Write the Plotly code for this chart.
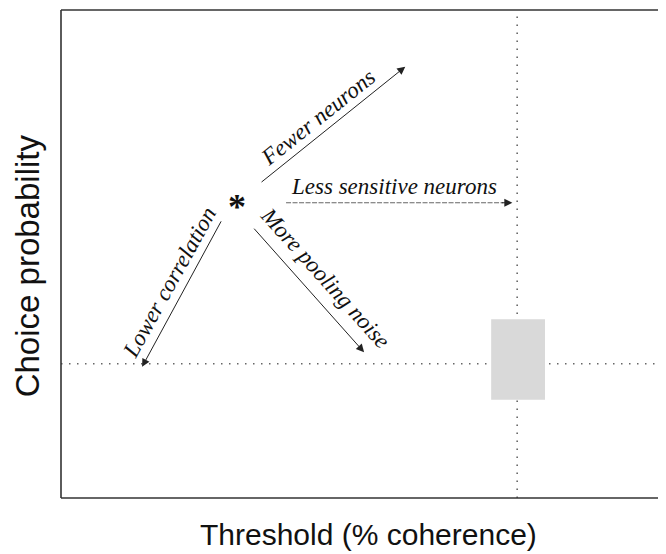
import plotly.graph_objects as go

# --- data (abstract units: x 0..10 threshold, y 0..8 choice probability) ---
x_range = [0, 10]
y_range = [0, 8]

ref_threshold = 7.54      # vertical dotted line (observed threshold)
ref_cp = 2.2              # horizontal dotted line (observed choice probability)
box_x = [7.11, 8.0]       # grey box: observed range
box_y = [1.61, 2.93]

star_xy = (2.91, 4.85)    # model prediction

arrow_labels = ["Fewer neurons", "Less sensitive neurons", "More pooling noise", "Lower correlation"]
arrow_start_x = [3.29, 3.72, 3.17, 2.66]
arrow_start_y = [5.16, 4.84, 4.44, 4.56]
arrow_end_x = [5.69, 7.46, 5.01, 1.34]
arrow_end_y = [7.07, 4.84, 2.39, 2.15]
arrow_dashed = [False, True, False, False]
label_x = [4.25, 5.50, 4.36, 1.79]
label_y = [6.23, 5.10, 3.61, 3.54]
label_angle = [-38.7, 0, 48, -61]

x_title = "Threshold (% coherence)"
y_title = "Choice probability"

fig = go.Figure()

dot_style = dict(color="#666666", width=1.6, dash="1.5px,6.5px")
fig.add_trace(go.Scatter(x=x_range, y=[ref_cp, ref_cp], mode="lines", line=dot_style,
                         hoverinfo="skip", showlegend=False))
fig.add_trace(go.Scatter(x=[ref_threshold, ref_threshold], y=y_range, mode="lines", line=dot_style,
                         hoverinfo="skip", showlegend=False))
fig.add_trace(go.Scatter(x=[box_x[0], box_x[1], box_x[1], box_x[0], box_x[0]],
                         y=[box_y[0], box_y[0], box_y[1], box_y[1], box_y[0]],
                         mode="lines", fill="toself", fillcolor="#d9d9d9",
                         line=dict(width=0, color="#d9d9d9"), hoverinfo="skip", showlegend=False))

annotations = []
for i, lab in enumerate(arrow_labels):
    sx, sy, ex, ey = arrow_start_x[i], arrow_start_y[i], arrow_end_x[i], arrow_end_y[i]
    if arrow_dashed[i]:
        fig.add_trace(go.Scatter(x=[sx, ex - 0.15], y=[sy, ey], mode="lines",
                                 line=dict(color="#666666", width=1, dash="5px,1.5px"),
                                 hoverinfo="skip", showlegend=False))
        tail_x, tail_y = ex - 0.2, ey
    else:
        tail_x, tail_y = sx, sy
    annotations.append(dict(x=ex, y=ey, ax=tail_x, ay=tail_y, xref="x", yref="y",
                            axref="x", ayref="y", text="", showarrow=True,
                            arrowhead=2, arrowsize=1.6, arrowwidth=1, arrowcolor="#222222",
                            standoff=0, startstandoff=0))
    annotations.append(dict(x=label_x[i], y=label_y[i], xref="x", yref="y",
                            text="<i>" + lab + "</i>", showarrow=False, textangle=label_angle[i],
                            font=dict(family="Liberation Serif", size=23, color="#111111"),
                            xanchor="center", yanchor="middle"))

annotations.append(dict(x=star_xy[0], y=star_xy[1], xref="x", yref="y", text="<b>*</b>",
                        showarrow=False, yshift=-5,
                        font=dict(family="Liberation Serif", size=36, color="#111111")))

annotations.append(dict(x=0.509, y=-0.074, xref="paper", yref="paper", text=x_title,
                        showarrow=False, yanchor="middle", xanchor="center",
                        font=dict(family="Liberation Sans", size=30, color="#111111")))
annotations.append(dict(x=-0.056, y=0.475, xref="paper", yref="paper", text=y_title,
                        showarrow=False, textangle=-90, xanchor="center", yanchor="middle",
                        font=dict(family="Liberation Sans", size=33, color="#111111")))

frame = dict(color="#333333", width=1.6)
shapes = [
    dict(type="line", xref="paper", yref="paper", x0=0, x1=0, y0=0, y1=1, line=frame),
    dict(type="line", xref="paper", yref="paper", x0=0, x1=1, y0=1, y1=1, line=frame),
    dict(type="line", xref="paper", yref="paper", x0=0, x1=1, y0=0, y1=0, line=frame),
]

fig.update_layout(
    width=658, height=546,
    margin=dict(l=53, r=0, t=2, b=56),
    paper_bgcolor="white", plot_bgcolor="white",
    xaxis=dict(range=x_range, showgrid=False, zeroline=False, showticklabels=False, ticks="",
               showline=False),
    yaxis=dict(range=y_range, showgrid=False, zeroline=False, showticklabels=False, ticks="",
               showline=False),
    annotations=annotations, shapes=shapes,
)

fig.write_html("out.html")
